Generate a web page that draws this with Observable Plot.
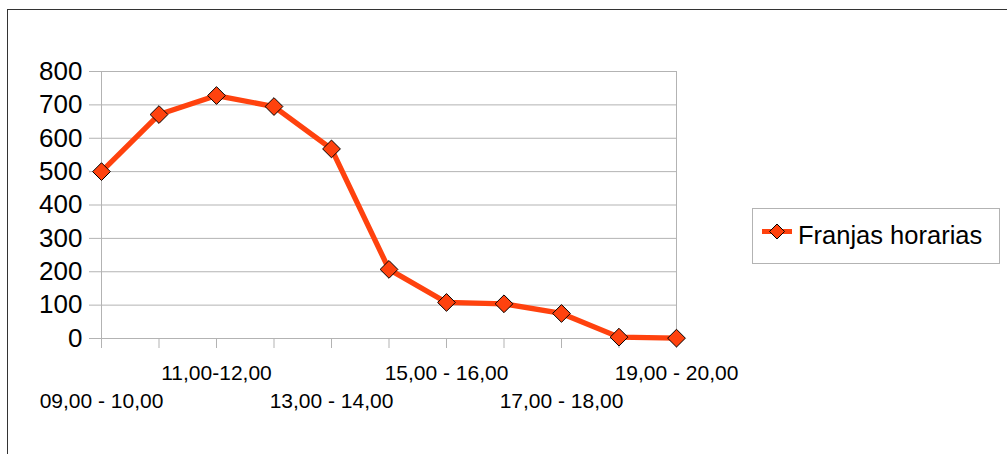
<!DOCTYPE html>
<html>
<head>
<meta charset="utf-8">
<script src="https://cdn.jsdelivr.net/npm/d3@7"></script>
<script src="https://cdn.jsdelivr.net/npm/@observablehq/plot@0.6"></script>
<style>
  html, body { margin: 0; padding: 0; background: #fff; }
  #wrap { position: relative; width: 1007px; height: 454px; overflow: hidden; font-family: "Liberation Sans", Arial, sans-serif; }
  #border { position: absolute; left: 7px; top: 9px; width: 1100px; height: 600px; border-left: 1px solid #333; border-top: 1px solid #333; }
  #chart { position: absolute; left: 0; top: 0; }
  #legend { position: absolute; left: 752px; top: 208px; width: 246px; height: 54px; border: 1px solid #b3b3b3; background: #fff; }
  #legend svg { position: absolute; left: 0; top: 0; }
</style>
</head>
<body>
<div id="wrap">
  <div id="border"></div>
  <div id="chart"></div>
  <div id="legend"></div>
</div>
<script>
const categories = ["09,00 - 10,00","10,00 - 11,00","11,00-12,00","12,00 - 13,00","13,00 - 14,00","14,00 - 15,00","15,00 - 16,00","16,00 - 17,00","17,00 - 18,00","18,00 - 19,00","19,00 - 20,00"];
const values = [500, 671, 728, 695, 568, 207, 108, 104, 75, 4, 1];
const yTicks = [0, 100, 200, 300, 400, 500, 600, 700, 800];
const seriesName = "Franjas horarias";
const upperLabels = ["11,00-12,00", "15,00 - 16,00", "19,00 - 20,00"];
const lowerLabels = ["09,00 - 10,00", "13,00 - 14,00", "17,00 - 18,00"];

const color = "#ff420e";
const data = categories.map((c, i) => ({cat: c, value: values[i]}));
const first = categories[0];
const last = categories[categories.length - 1];

const chart = Plot.plot({
  width: 1007,
  height: 454,
  marginLeft: 101,
  marginRight: 331,
  marginTop: 71,
  marginBottom: 116,
  style: {fontFamily: "'Liberation Sans', Arial, sans-serif", background: "transparent", overflow: "visible"},
  x: {type: "point", domain: categories, padding: 0, round: false, axis: null},
  y: {type: "linear", domain: [0, 800], axis: null},
  marks: [
    Plot.ruleY(yTicks, {y: d => d, x1: () => first, x2: () => last, stroke: "#b3b3b3", strokeWidth: 1, insetLeft: -12}),
    Plot.ruleX([last], {x: d => d, y1: () => 0, y2: () => 800, stroke: "#b3b3b3"}),
    Plot.ruleX([first], {x: d => d, y1: () => 0, y2: () => 800, stroke: "#b3b3b3"}),
    Plot.ruleX(categories, {x: d => d, y1: () => 0, y2: () => 0, insetBottom: -10, stroke: "#b3b3b3"}),
    Plot.text(yTicks, {x: () => first, y: d => d, text: d => String(d), textAnchor: "end", dx: -19, fontSize: 26, fill: "#000"}),
    Plot.text(upperLabels, {x: d => d, y: () => 0, text: d => d, textAnchor: "middle", dy: 35, fontSize: 21, fill: "#000"}),
    Plot.text(lowerLabels, {x: d => d, y: () => 0, text: d => d, textAnchor: "middle", dy: 63, fontSize: 21, fill: "#000"}),
    Plot.line(data, {x: "cat", y: "value", stroke: color, strokeWidth: 5.3, strokeLinejoin: "round"}),
    Plot.dot(data, {x: "cat", y: "value", symbol: "diamond2", r: 8, fill: color, stroke: "#000", strokeWidth: 1})
  ]
});
document.getElementById("chart").appendChild(chart);

// legend
const lg = d3.select("#legend").append("svg").attr("width", 246).attr("height", 54);
lg.append("line").attr("x1", 9).attr("x2", 39).attr("y1", 22.5).attr("y2", 22.5).attr("stroke", color).attr("stroke-width", 5);
const s = 7.5;
lg.append("path").attr("d", `M24,${22.5 - s}L${24 + s},22.5L24,${22.5 + s}L${24 - s},22.5Z`).attr("fill", color).attr("stroke", "#000").attr("stroke-width", 1);
lg.append("text").attr("x", 45).attr("y", 35).attr("font-size", 25.5).attr("font-family", "'Liberation Sans', Arial, sans-serif").attr("fill", "#000").text(seriesName);
</script>
</body>
</html>
